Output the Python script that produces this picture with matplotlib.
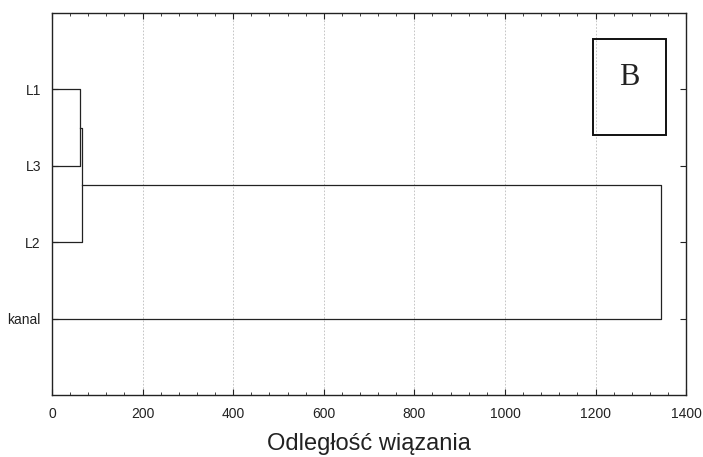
import matplotlib.pyplot as plt
from matplotlib.ticker import MultipleLocator
from matplotlib.patches import Rectangle

# leaves from top to bottom, merges as (left, right, distance)
leaves = ['L1', 'L3', 'L2', 'kanal']
merges = [('L1', 'L3', 62), ('c1', 'L2', 67), ('c2', 'kanal', 1345)]
x_ticks = [0, 200, 400, 600, 800, 1000, 1200, 1400]

plt.rcParams['font.family'] = ['Liberation Sans', 'DejaVu Sans']

fig = plt.figure(figsize=(7.03, 4.57), dpi=100)
ax = fig.add_axes([0.074, 0.1357, 0.902, 0.8359])

# leaf positions: top leaf highest
pos = {}
for i, name in enumerate(leaves):
    pos[name] = (0, len(leaves) - i)

for k, (a, b, d) in enumerate(merges):
    xa, ya = pos[a]
    xb, yb = pos[b]
    ax.plot([xa, d, d, xb], [ya, ya, yb, yb], color='#222222', lw=0.9)
    pos['c%d' % (k + 1)] = (d, (ya + yb) / 2)

ax.set_xlim(0, 1400)
ax.set_ylim(0, len(leaves) + 1)
ax.set_xticks(x_ticks)
ax.xaxis.set_minor_locator(MultipleLocator(40))
ax.set_yticks([len(leaves) - i for i in range(len(leaves))])
ax.set_yticklabels(leaves)
ax.tick_params(which='both', direction='in', top=True, right=True, labelsize=10, color='#222222',
               labelcolor='#222222')
ax.tick_params(which='major', length=4)
ax.tick_params(which='minor', length=2.5)
ax.tick_params(axis='x', pad=9)
ax.tick_params(axis='y', pad=8)
ax.grid(axis='x', which='major', color='#bbbbbb', linestyle=(0, (2, 2)), lw=0.6)
for s in ax.spines.values():
    s.set_color('#222222')
    s.set_linewidth(1.0)
ax.set_xlabel('Odległość wiązania', fontsize=17, labelpad=8, color='#222222')

ax.add_patch(Rectangle((1194, 3.4), 162, 1.26, fill=False, edgecolor='#111111', lw=1.4, zorder=5))
ax.text(1275, 4.15, 'B', family=['Liberation Serif', 'DejaVu Serif'], fontsize=22,
        ha='center', va='center', color='#222222')

fig.savefig('out.png', dpi=100)
